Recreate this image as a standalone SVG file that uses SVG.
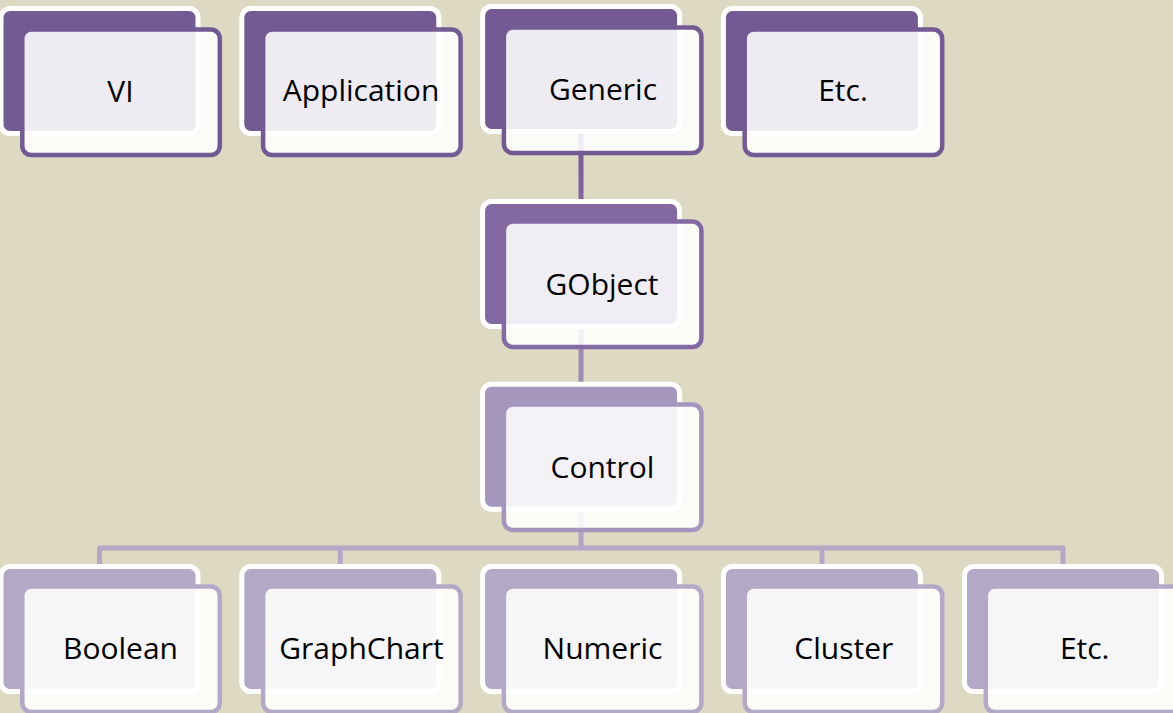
<svg xmlns="http://www.w3.org/2000/svg" width="1173" height="713" viewBox="0 0 1173 713">
  <defs>
    <linearGradient id="link-top" gradientUnits="userSpaceOnUse" x1="0" y1="150" x2="0" y2="205">
      <stop offset="0" stop-color="#765B95"/>
      <stop offset="1" stop-color="#8468A1"/>
    </linearGradient>
    <style>
      .bg { fill: #DDD9C3; }
      .back { stroke: #FFFFFF; stroke-width: 5; }
      .front { fill: #FFFFFF; fill-opacity: 0.88; stroke-width: 4.5; }
      .l1 .back { fill: #745A92; }
      .l1 .front { stroke: #745A92; }
      .l2 .back { fill: #8468A1; }
      .l2 .front { stroke: #8468A1; }
      .l3 .back { fill: #A596BE; }
      .l3 .front { stroke: #A596BE; }
      .l4 .back { fill: #B3A8C6; }
      .l4 .front { stroke: #B3A8C6; }
      .label { font-family: "Open Sans", "Liberation Sans", sans-serif; font-size: 30px; fill: #000000; text-anchor: middle; }
      .link { fill: none; stroke-width: 5; stroke-linejoin: round; }
    </style>
  </defs>

  <rect class="bg" x="0" y="0" width="1173" height="713"/>

  <!-- connectors sit under the nodes -->
  <g id="connectors">
    <path class="link" d="M581,70 V205" stroke="url(#link-top)"/>
    <path class="link" d="M581,280 V388" stroke="#9D8BB7"/>
    <path class="link" d="M581,460 V548" stroke="#B0A4C4"/>
    <path class="link" d="M99.5,570 V548 H1063 V570" stroke="#B3A8C6"/>
    <path class="link" d="M340.3,548 V570 M822,548 V570" stroke="#B3A8C6"/>
  </g>

  <!-- top row -->
  <g id="node-vi" class="l1">
    <rect class="back" x="1" y="8.5" width="197" height="125" rx="9"/>
    <rect class="front" x="22.3" y="29.5" width="197.5" height="125.5" rx="9"/>
    <text class="label" x="120.5" y="102">VI</text>
  </g>
  <g id="node-application" class="l1">
    <rect class="back" x="241.8" y="8.5" width="197" height="125" rx="9"/>
    <rect class="front" x="263.1" y="29.5" width="197.5" height="125.5" rx="9"/>
    <text class="label" x="361" y="101">Application</text>
  </g>
  <g id="node-generic" class="l1">
    <rect class="back" x="482.6" y="6.5" width="197" height="125" rx="9"/>
    <rect class="front" x="503.9" y="27.5" width="197.5" height="125.5" rx="9"/>
    <text class="label" x="603" y="100">Generic</text>
  </g>
  <g id="node-etc-top" class="l1">
    <rect class="back" x="723.4" y="8.5" width="197" height="125" rx="9"/>
    <rect class="front" x="744.7" y="29.5" width="197.5" height="125.5" rx="9"/>
    <text class="label" x="843" y="101">Etc.</text>
  </g>

  <!-- middle chain -->
  <g id="node-gobject" class="l2">
    <rect class="back" x="482.6" y="201.5" width="197" height="125" rx="9"/>
    <rect class="front" x="503.9" y="221.5" width="197.5" height="125.5" rx="9"/>
    <text class="label" x="602" y="295">GObject</text>
  </g>
  <g id="node-control" class="l3">
    <rect class="back" x="482.6" y="384.2" width="197" height="125" rx="9"/>
    <rect class="front" x="503.9" y="404.5" width="197.5" height="125.5" rx="9"/>
    <text class="label" x="602.5" y="478">Control</text>
  </g>

  <!-- bottom row -->
  <g id="node-boolean" class="l4">
    <rect class="back" x="1" y="566.5" width="197" height="125" rx="9"/>
    <rect class="front" x="22.3" y="586.5" width="197.5" height="125.5" rx="9"/>
    <text class="label" x="120.5" y="659">Boolean</text>
  </g>
  <g id="node-graphchart" class="l4">
    <rect class="back" x="241.8" y="566.5" width="197" height="125" rx="9"/>
    <rect class="front" x="263.1" y="586.5" width="197.5" height="125.5" rx="9"/>
    <text class="label" x="361.5" y="659">GraphChart</text>
  </g>
  <g id="node-numeric" class="l4">
    <rect class="back" x="482.6" y="566.5" width="197" height="125" rx="9"/>
    <rect class="front" x="503.9" y="586.5" width="197.5" height="125.5" rx="9"/>
    <text class="label" x="602.5" y="659">Numeric</text>
  </g>
  <g id="node-cluster" class="l4">
    <rect class="back" x="723.4" y="566.5" width="197" height="125" rx="9"/>
    <rect class="front" x="744.7" y="586.5" width="197.5" height="125.5" rx="9"/>
    <text class="label" x="843.8" y="659">Cluster</text>
  </g>
  <g id="node-etc-bottom" class="l4">
    <rect class="back" x="964.5" y="566.5" width="197" height="125" rx="9"/>
    <rect class="front" x="985.8" y="586.5" width="197.5" height="125.5" rx="9"/>
    <text class="label" x="1084.7" y="659">Etc.</text>
  </g>
</svg>
